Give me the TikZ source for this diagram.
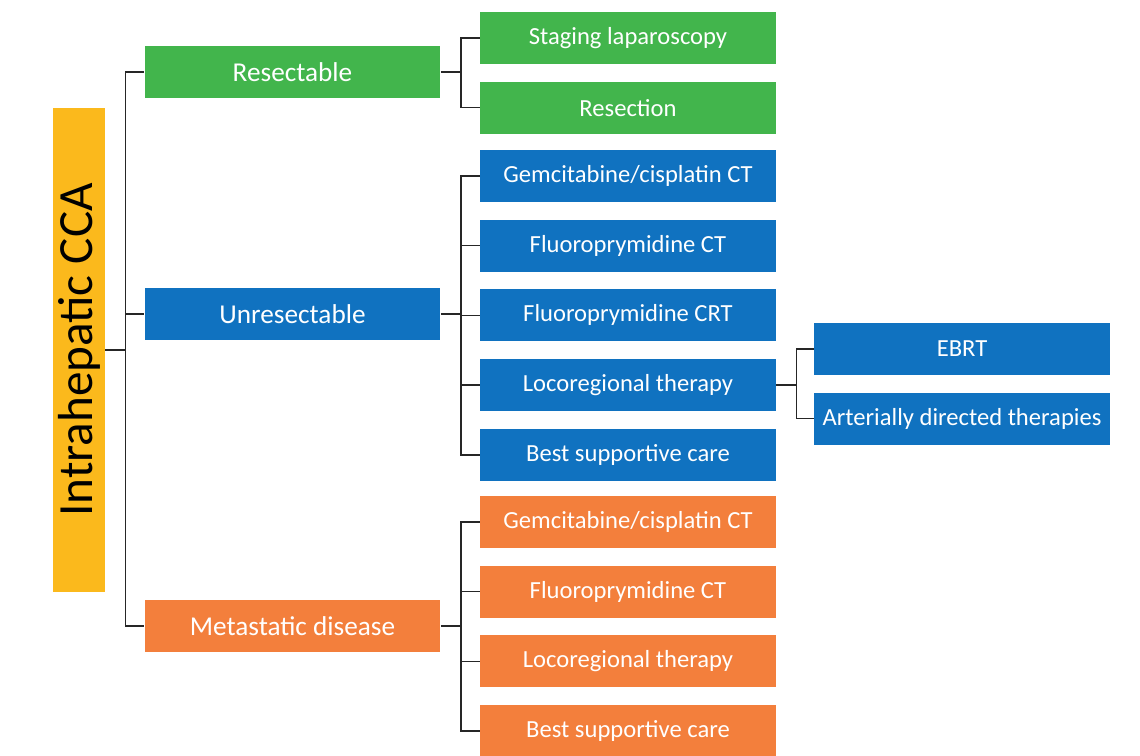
\documentclass[tikz,border=0pt]{standalone}
\usepackage{fontspec}
\setmainfont{Carlito}
\usetikzlibrary{positioning}
\definecolor{rootyellow}{RGB}{251,185,28}
\definecolor{resgreen}{RGB}{66,181,76}
\definecolor{unrblue}{RGB}{16,114,192}
\definecolor{metorange}{RGB}{243,127,60}
\begin{document}
\begin{tikzpicture}[x=0.02cm, y=-0.02cm,
    box/.style={rectangle, minimum width=5.92cm, minimum height=1.04cm, inner sep=0pt,
        text=white, font=\fontsize{14}{16}\selectfont},
    topbox/.style={font=\fontsize{15.5}{17}\selectfont},
    greenbox/.style={box, fill=resgreen},
    bluebox/.style={box, fill=unrblue},
    orangebox/.style={box, fill=metorange},
    link/.style={draw=black!85, line width=0.9pt},
    node distance=0.34cm]
    \useasboundingbox (0,0) rectangle (1140,755);
    % root
    \node[rectangle, fill=rootyellow, minimum width=1.04cm, minimum height=9.68cm, inner sep=0pt] (root) at (79,350)
        {\rotatebox{90}{\fontsize{28}{30}\selectfont Intrahepatic CCA}};
    % first level
    \node[greenbox, topbox] (res) at (292.5,72) {Resectable};
    \node[bluebox, topbox] (unres) at (292.5,314) {Unresectable};
    \node[orangebox, topbox] (meta) at (292.5,626) {Metastatic disease};
    % resectable
    \node[greenbox] (stag) at (628,38) {Staging laparoscopy};
    \node[greenbox, below=of stag] (resec) {Resection};
    % unresectable
    \node[bluebox] (ugem) at (628,176) {Gemcitabine/cisplatin CT};
    \node[bluebox, below=of ugem] (uflct) {Fluoroprymidine CT};
    \node[bluebox, below=of uflct] (uflcrt) {Fluoroprymidine CRT};
    \node[bluebox, below=of uflcrt] (uloco) {Locoregional therapy};
    \node[bluebox, below=of uloco] (ubsc) {Best supportive care};
    \node[bluebox] (ebrt) at (962,349) {EBRT};
    \node[bluebox, below=of ebrt] (arter) {Arterially directed therapies};
    % metastatic
    \node[orangebox] (mgem) at (628,522) {Gemcitabine/cisplatin CT};
    \node[orangebox, below=of mgem] (mflct) {Fluoroprymidine CT};
    \node[orangebox, below=of mflct] (mloco) {Locoregional therapy};
    \node[orangebox, below=of mloco] (mbsc) {Best supportive care};
    % connectors
    \draw[link] (root.east) -- ++(20,0) coordinate (rfork);
    \foreach \n in {res,unres,meta} \draw[link] (rfork) |- (\n.west);
    \draw[link] (res.east) -- ++(20,0) coordinate (gfork);
    \foreach \n in {stag,resec} \draw[link] (gfork) |- (\n.west);
    \draw[link] (unres.east) -- ++(20,0) coordinate (bfork);
    \foreach \n in {ugem,uflct,uflcrt,uloco,ubsc} \draw[link] (bfork) |- (\n.west);
    \draw[link] (uloco.east) -- ++(20,0) coordinate (lfork);
    \foreach \n in {ebrt,arter} \draw[link] (lfork) |- (\n.west);
    \draw[link] (meta.east) -- ++(20,0) coordinate (ofork);
    \foreach \n in {mgem,mflct,mloco,mbsc} \draw[link] (ofork) |- (\n.west);
\end{tikzpicture}
\end{document}
